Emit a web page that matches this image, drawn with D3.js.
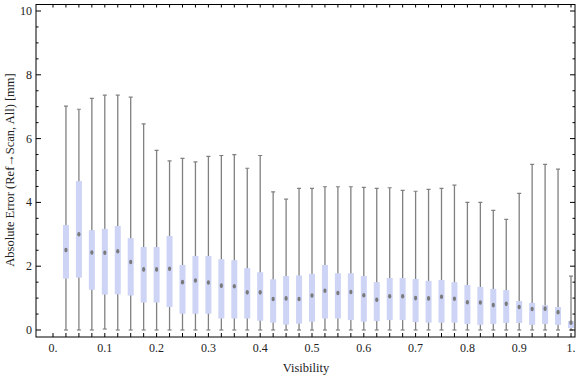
<!DOCTYPE html>
<html>
<head>
<meta charset="utf-8">
<script src="https://cdn.jsdelivr.net/npm/d3@7"></script>
<style>
  body { margin: 0; background: #fff; }
  text { font-family: "Liberation Serif", "DejaVu Serif", serif; }
</style>
</head>
<body>
<svg id="chart" width="576" height="377"></svg>
<script>
// visibility bins (box centers)
let visibility = [0.025, 0.05, 0.075, 0.1, 0.125, 0.15, 0.175, 0.2, 0.225, 0.25,
  0.275, 0.3, 0.325, 0.35, 0.375, 0.4, 0.425, 0.45, 0.475, 0.5,
  0.525, 0.55, 0.575, 0.6, 0.625, 0.65, 0.675, 0.7, 0.725, 0.75,
  0.775, 0.8, 0.825, 0.85, 0.875, 0.9, 0.925, 0.95, 0.975, 1.0];

// whisker tops
let maxVals = [7.02, 6.92, 7.26, 7.36, 7.36, 7.30, 6.46, 5.63, 5.30, 5.38,
  5.27, 5.44, 5.47, 5.50, 5.07, 5.47, 4.33, 4.10, 4.44, 4.44,
  4.49, 4.49, 4.49, 4.47, 4.44, 4.46, 4.38, 4.35, 4.41, 4.44,
  4.54, 4.00, 4.00, 3.75, 3.47, 4.28, 5.19, 5.19, 5.04, 1.69];
// upper quartile
let q3Vals = [3.29, 4.67, 3.13, 3.17, 3.26, 2.88, 2.60, 2.60, 2.95, 2.04,
  2.32, 2.32, 2.22, 2.19, 1.94, 1.81, 1.59, 1.69, 1.71, 1.76,
  2.04, 1.78, 1.78, 1.69, 1.50, 1.63, 1.63, 1.60, 1.54, 1.57,
  1.50, 1.41, 1.35, 1.29, 1.25, 0.91, 0.85, 0.78, 0.72, 0.28];
// medians
let medVals = [2.51, 3.00, 2.43, 2.42, 2.47, 2.13, 1.90, 1.90, 1.92, 1.50,
  1.55, 1.49, 1.39, 1.37, 1.18, 1.18, 0.97, 0.99, 0.97, 1.08,
  1.23, 1.16, 1.19, 1.09, 0.95, 1.06, 1.06, 1.00, 0.99, 1.04,
  0.98, 0.87, 0.86, 0.78, 0.82, 0.72, 0.66, 0.67, 0.56, 0.23];
// lower quartile
let q1Vals = [1.61, 1.64, 1.26, 1.11, 1.12, 1.08, 0.86, 0.86, 0.72, 0.51,
  0.51, 0.51, 0.36, 0.36, 0.36, 0.29, 0.23, 0.17, 0.20, 0.26,
  0.36, 0.36, 0.31, 0.26, 0.28, 0.31, 0.31, 0.25, 0.23, 0.23,
  0.23, 0.19, 0.16, 0.19, 0.22, 0.22, 0.16, 0.19, 0.16, 0.06];
// whisker bottoms
let minVals = [0, 0, 0, 0.03, 0, 0, 0, 0, 0, 0,
  0, 0, 0, 0, 0, 0, 0, 0, 0, 0,
  0, 0, 0, 0, 0, 0, 0, 0, 0, 0,
  0, 0, 0, 0, 0, 0, 0, 0, 0, 0];

let xTicks = [0, 0.1, 0.2, 0.3, 0.4, 0.5, 0.6, 0.7, 0.8, 0.9, 1.0];
let yTicks = [0, 2, 4, 6, 8, 10];

let data = visibility.map((v, i) => ({
  v: v, min: minVals[i], q1: q1Vals[i], med: medVals[i], q3: q3Vals[i], max: maxVals[i]
}));

let svg = d3.select("#chart");

// frame edges
let fLeft = 36, fRight = 575, fTop = 4.5, fBottom = 337;

let xScale = d3.scaleLinear().domain([0, 1]).range([53, 571]);
let yScale = d3.scaleLinear().domain([0, 10]).range([330, 11]);

svg.append("clipPath").attr("id", "plotClip")
  .append("rect")
  .attr("x", fLeft).attr("y", fTop)
  .attr("width", fRight - fLeft).attr("height", fBottom - fTop);

let plot = svg.append("g").attr("clip-path", "url(#plotClip)");

let boxW = 6, capW = 4;
let grey = "#808080";

let groups = plot.selectAll("g.box").data(data).enter().append("g").attr("class", "box");

// whisker line
groups.append("line")
  .attr("x1", d => xScale(d.v)).attr("x2", d => xScale(d.v))
  .attr("y1", d => yScale(d.min)).attr("y2", d => yScale(d.max))
  .attr("stroke", grey).attr("stroke-width", 1.3);

// caps
groups.append("line")
  .attr("x1", d => xScale(d.v) - capW / 2).attr("x2", d => xScale(d.v) + capW / 2)
  .attr("y1", d => yScale(d.max)).attr("y2", d => yScale(d.max))
  .attr("stroke", grey).attr("stroke-width", 1.2);
groups.append("line")
  .attr("x1", d => xScale(d.v) - capW / 2).attr("x2", d => xScale(d.v) + capW / 2)
  .attr("y1", d => yScale(d.min)).attr("y2", d => yScale(d.min))
  .attr("stroke", grey).attr("stroke-width", 1.2);

// box
groups.append("rect")
  .attr("x", d => xScale(d.v) - boxW / 2)
  .attr("width", boxW)
  .attr("y", d => yScale(d.q3))
  .attr("height", d => yScale(d.q1) - yScale(d.q3))
  .attr("fill", "rgb(205,212,245)");

// median marker
groups.append("ellipse")
  .attr("cx", d => xScale(d.v))
  .attr("cy", d => yScale(d.med))
  .attr("rx", 1.6).attr("ry", 2.3)
  .attr("fill", "#7a7a7a");

// frame
svg.append("rect")
  .attr("x", fLeft).attr("y", fTop)
  .attr("width", fRight - fLeft).attr("height", fBottom - fTop)
  .attr("fill", "none").attr("stroke", "#000").attr("stroke-width", 1);

// ticks on all four sides
let xMinor = d3.range(0, 41).map(i => i / 40);
let yMinor = d3.range(0, 21).map(i => i / 2);

let tickG = svg.append("g").attr("stroke", "#000").attr("stroke-width", 1);
xMinor.forEach(t => {
  let x = xScale(t);
  tickG.append("line").attr("x1", x).attr("x2", x).attr("y1", fBottom).attr("y2", fBottom - 4);
  tickG.append("line").attr("x1", x).attr("x2", x).attr("y1", fTop).attr("y2", fTop + 3);
});
yMinor.forEach(t => {
  let y = yScale(t);
  let len = (t % 2 === 0) ? 5 : 2.5;
  tickG.append("line").attr("x1", fLeft).attr("x2", fLeft + len).attr("y1", y).attr("y2", y);
  tickG.append("line").attr("x1", fRight).attr("x2", fRight - len).attr("y1", y).attr("y2", y);
});

// tick labels
svg.append("g").selectAll("text").data(xTicks).enter().append("text")
  .attr("x", d => xScale(d))
  .attr("y", 352)
  .attr("text-anchor", "middle")
  .attr("font-size", 12)
  .attr("fill", "#222")
  .text(d => (d === 0 ? "0." : d === 1 ? "1." : d3.format(".1f")(d)));

svg.append("g").selectAll("text").data(yTicks).enter().append("text")
  .attr("x", 32)
  .attr("y", d => yScale(d) + 4)
  .attr("text-anchor", "end")
  .attr("font-size", 12)
  .attr("fill", "#222")
  .text(d => d);

// axis titles
svg.append("text")
  .attr("x", 306).attr("y", 372)
  .attr("text-anchor", "middle")
  .attr("font-size", 12.5)
  .attr("fill", "#222")
  .text("Visibility");

svg.append("text")
  .attr("transform", "translate(14,170) rotate(-90)")
  .attr("text-anchor", "middle")
  .attr("font-size", 12.5)
  .attr("fill", "#222")
  .text("Absolute Error (Ref\u2192Scan, All) [mm]");
</script>
</body>
</html>
